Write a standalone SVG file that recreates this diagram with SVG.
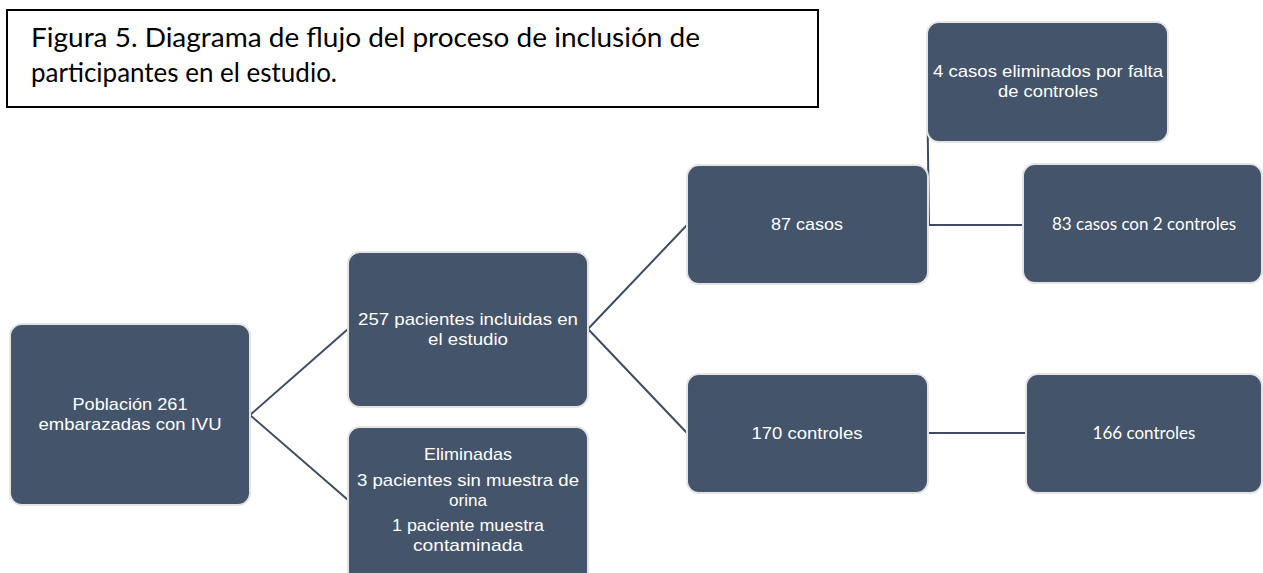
<svg xmlns="http://www.w3.org/2000/svg" width="1263" height="573" viewBox="0 0 1263 573">
<style>
.box{fill:#44546A;stroke:#E4E4E4;stroke-width:2}
.t{font-family:"Liberation Sans",Arial,sans-serif;font-size:17px;fill:#FFFFFF;text-anchor:middle}
.c{font-family:Lato,"Open Sans",sans-serif;font-size:17px;fill:#FFFFFF;text-anchor:middle}
.ln{stroke:#3E4C63;stroke-width:2;fill:none}
.title{font-family:Lato,"Open Sans",sans-serif;font-size:26.5px;fill:#000000}
</style>
<rect width="1263" height="573" fill="#FFFFFF"/>
<g id="title">
<rect x="7" y="10" width="811" height="97" fill="#FFFFFF" stroke="#000000" stroke-width="2"/>
<text class="title" x="31" y="47" textLength="669" lengthAdjust="spacingAndGlyphs">Figura 5. Diagrama de flujo del proceso de inclusión de</text>
<text class="title" x="31" y="82" textLength="306" lengthAdjust="spacingAndGlyphs">participantes en el estudio.</text>
</g>
<g id="connectors">
<line class="ln" x1="250" y1="415" x2="348" y2="329"/>
<line class="ln" x1="250" y1="415" x2="348" y2="500"/>
<line class="ln" x1="588" y1="329" x2="687" y2="225"/>
<line class="ln" x1="588" y1="329" x2="687" y2="433"/>
<line class="ln" x1="927" y1="82" x2="929" y2="225"/>
<line class="ln" x1="928" y1="225" x2="1023" y2="225"/>
<line class="ln" x1="928" y1="433" x2="1026" y2="433"/>
</g>
<g id="n-poblacion">
<rect class="box" x="10" y="324" width="240" height="181" rx="12"/>
<text class="t" x="130" y="410" textLength="115" lengthAdjust="spacingAndGlyphs">Población 261</text>
<text class="t" x="130" y="430" textLength="183" lengthAdjust="spacingAndGlyphs">embarazadas con IVU</text>
</g>
<g id="n-257">
<rect class="box" x="348" y="252" width="240" height="155" rx="12"/>
<text class="t" x="468" y="325" textLength="220" lengthAdjust="spacingAndGlyphs">257 pacientes incluidas en</text>
<text class="t" x="468" y="345" textLength="80" lengthAdjust="spacingAndGlyphs">el estudio</text>
</g>
<g id="n-eliminadas">
<rect class="box" x="348" y="427" width="240" height="160" rx="12"/>
<text class="t" x="468" y="460" textLength="88" lengthAdjust="spacingAndGlyphs">Eliminadas</text>
<text class="t" x="468" y="486" textLength="222" lengthAdjust="spacingAndGlyphs">3 pacientes sin muestra de</text>
<text class="t" x="468" y="506" textLength="38" lengthAdjust="spacingAndGlyphs">orina</text>
<text class="t" x="468" y="531" textLength="152" lengthAdjust="spacingAndGlyphs">1 paciente muestra</text>
<text class="t" x="468" y="551" textLength="110" lengthAdjust="spacingAndGlyphs">contaminada</text>
</g>
<g id="n-87">
<rect class="box" x="687" y="165" width="241" height="119" rx="12"/>
<text class="t" x="807" y="230" textLength="72" lengthAdjust="spacingAndGlyphs">87 casos</text>
</g>
<g id="n-4casos">
<rect class="box" x="927" y="22" width="241" height="120" rx="12"/>
<text class="t" x="1048" y="77" textLength="230" lengthAdjust="spacingAndGlyphs">4 casos eliminados por falta</text>
<text class="t" x="1048" y="97" textLength="100" lengthAdjust="spacingAndGlyphs">de controles</text>
</g>
<g id="n-83">
<rect class="box" x="1023" y="164" width="239" height="119" rx="12"/>
<text class="c" x="1144" y="230" textLength="184" lengthAdjust="spacingAndGlyphs">83 casos con 2 controles</text>
</g>
<g id="n-170">
<rect class="box" x="687" y="374" width="241" height="119" rx="12"/>
<text class="t" x="807" y="439" textLength="111" lengthAdjust="spacingAndGlyphs">170 controles</text>
</g>
<g id="n-166">
<rect class="box" x="1026" y="374" width="236" height="119" rx="12"/>
<text class="c" x="1144" y="439">166 controles</text>
</g>
</svg>
